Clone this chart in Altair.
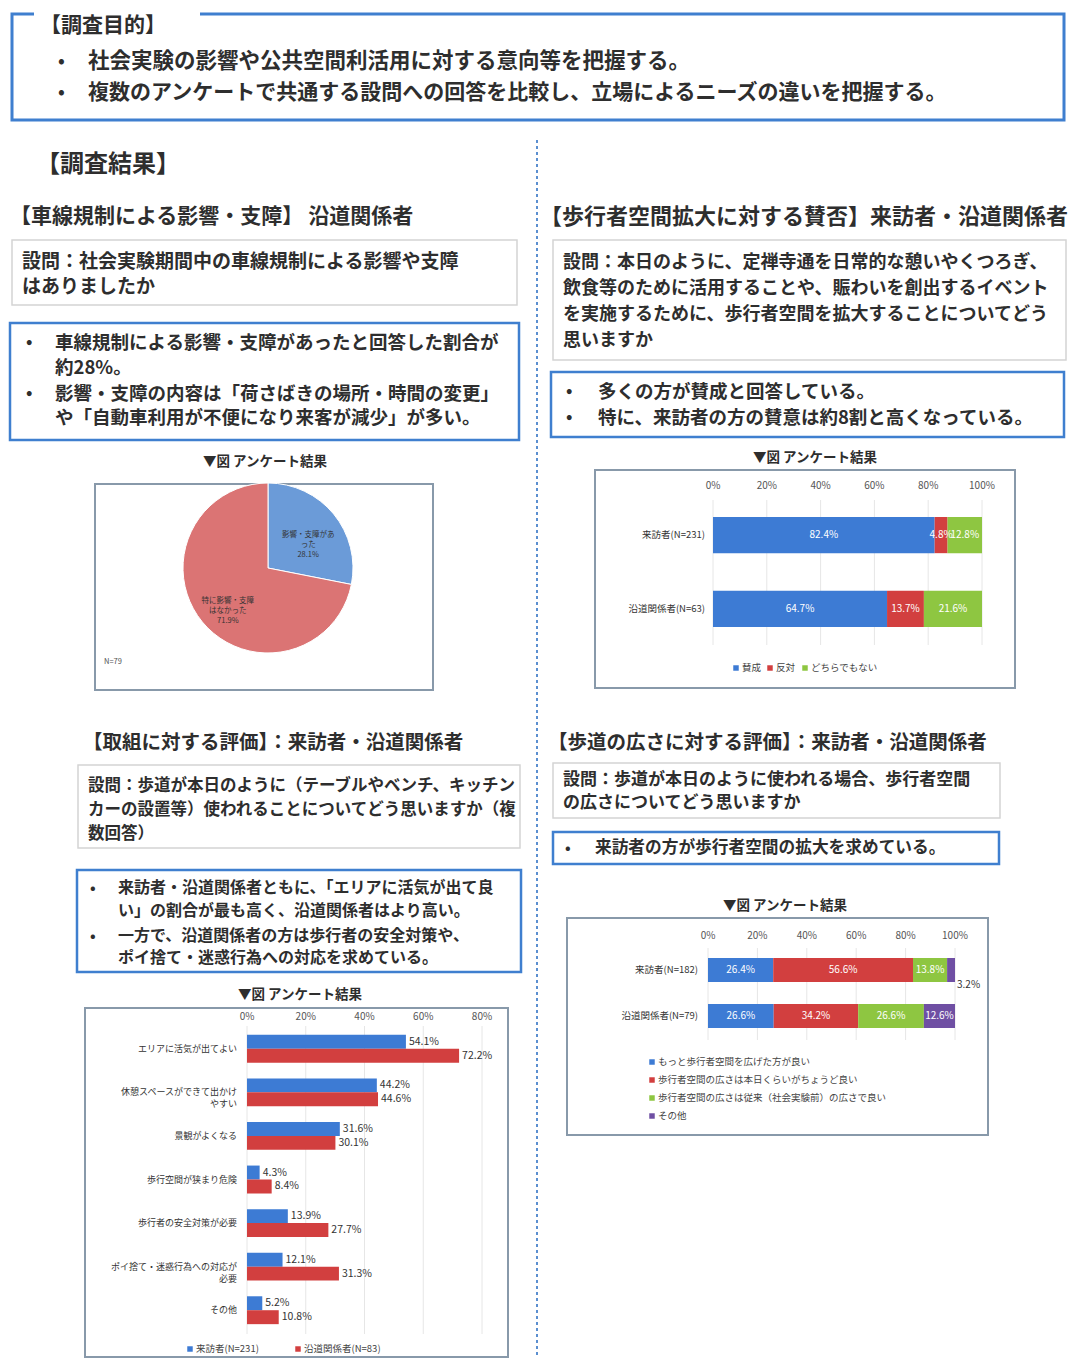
import altair as alt
import pandas as pd

FONT = "Noto Sans CJK JP"
M = 8
W, H = 1063, 1350

# ---------------- data ----------------
pie_labels = ["影響・支障があった", "特に影響・支障はなかった"]
pie_label_text = ["影響・支障があ\nった\n", "特に影響・支障\nはなかった\n"]
pie_values = [28.1, 71.9]

support_groups = ["来訪者(N=231)", "沿道関係者(N=63)"]
support_cats = ["賛成", "反対", "どちらでもない"]
support_visitor = [82.4, 4.8, 12.8]
support_resident = [64.7, 13.7, 21.6]

eval_cats = ["エリアに活気が出てよい", "休憩スペースができて出かけやすい", "景観がよくなる",
             "歩行空間が狭まり危険", "歩行者の安全対策が必要", "ポイ捨て・迷惑行為への対応が必要", "その他"]
eval_disp = ["エリアに活気が出てよい", "休憩スペースができて出かけ\nやすい", "景観がよくなる",
             "歩行空間が狭まり危険", "歩行者の安全対策が必要", "ポイ捨て・迷惑行為への対応が\n必要", "その他"]
eval_series = ["来訪者(N=231)", "沿道関係者(N=83)"]
eval_visitor = [54.1, 44.2, 31.6, 4.3, 13.9, 12.1, 5.2]
eval_resident = [72.2, 44.6, 30.1, 8.4, 27.7, 31.3, 10.8]

width_groups = ["来訪者(N=182)", "沿道関係者(N=79)"]
width_cats = ["もっと歩行者空間を広げた方が良い", "歩行者空間の広さは本日くらいがちょうど良い",
              "歩行者空間の広さは従来（社会実験前）の広さで良い", "その他"]
width_visitor = [26.4, 56.6, 13.8, 3.2]
width_resident = [26.6, 34.2, 26.6, 12.6]

ticks_100 = [0, 20, 40, 60, 80, 100]
ticks_80 = [0, 20, 40, 60, 80]

BLUE, RED, GREEN, PURPLE = "#3d7bd4", "#d23f3f", "#8ec641", "#6f4fa3"
FRAME_BLUE = "#3f7fcf"
DARK = "#2e2e2e"

one = pd.DataFrame({"k": [0]})


def P(v):
    return v - M


def text(x, y, s, size=18, weight="bold", color=DARK, align="left", lh=None):
    kw = dict(align=align, baseline="middle", fontSize=size, fontWeight=weight, font=FONT, color=color)
    if "\n" in s:
        kw["lineBreak"] = "\n"
        kw["lineHeight"] = lh or size * 1.3
    return alt.Chart(pd.DataFrame({"t": [s]})).mark_text(**kw).encode(
        x=alt.value(P(x)), y=alt.value(P(y)), text="t:N")


def box(x1, y1, x2, y2, stroke, sw, fill="#ffffff"):
    return alt.Chart(one).mark_rect(fill=fill, stroke=stroke, strokeWidth=sw).encode(
        x=alt.value(P(x1)), x2=alt.value(P(x2)), y=alt.value(P(y1)), y2=alt.value(P(y2)))


def legend_item(x, y, color, label, size=9.5):
    sq = alt.Chart(one).mark_square(size=30, color=color, opacity=1).encode(
        x=alt.value(P(x)), y=alt.value(P(y)))
    return [sq, text(x + 6, y, label, size=size, weight="normal", color="#444")]


def lines(x, y0, step, strs, size, weight="bold"):
    return [text(x, y0 + i * step, s, size=size, weight=weight) for i, s in enumerate(strs)]


layers = []

# ---------------- header ----------------
layers.append(box(12, 14, 1064, 120, FRAME_BLUE, 3))
layers.append(box(34, 9, 200, 36, "#ffffff", 0))
layers.append(text(40, 26, "【調査目的】", size=21))
layers.append(text(58, 62, "•", size=18))
layers.append(text(58, 93, "•", size=18))
layers.append(text(88, 62, "社会実験の影響や公共空間利活用に対する意向等を把握する。", size=21.5))
layers.append(text(88, 93, "複数のアンケートで共通する設問への回答を比較し、立場によるニーズの違いを把握する。", size=21))
layers.append(text(36, 165, "【調査結果】", size=24))

layers.append(alt.Chart(one).mark_rule(color="#5b8fd0", strokeWidth=2, strokeDash=[3, 3]).encode(
    x=alt.value(P(537)), y=alt.value(P(140)), y2=alt.value(H)))

# ---------------- top-left: pie ----------------
layers.append(text(10, 217, "【車線規制による影響・支障】 沿道関係者", size=21))
layers.append(box(12, 240, 517, 305, "#d4d4d4", 1.5))
layers += lines(22, 262, 25, ["設問：社会実験期間中の車線規制による影響や支障", "はありましたか"], 19)
layers.append(box(10, 323, 519, 440, FRAME_BLUE, 2.5))
layers.append(text(26, 343, "•", size=17))
layers.append(text(26, 394, "•", size=17))
layers += lines(55, 343, 25, ["車線規制による影響・支障があったと回答した割合が", "約28%。"], 18.5)
layers += lines(55, 394, 24, ["影響・支障の内容は「荷さばきの場所・時間の変更」", "や「自動車利用が不便になり来客が減少」が多い。"], 18.5)
layers.append(text(265, 462, "▼図  アンケート結果", size=13.5, align="center"))
layers.append(box(95, 484, 433, 690, "#8899aa", 2))

pie_df = pd.DataFrame({"label": pie_labels, "value": pie_values, "order": [0, 1]})
pie_df["txt"] = [t + f"{v:.1f}%" for t, v in zip(pie_label_text, pie_values)]
pie_color = alt.Color("label:N", scale=alt.Scale(domain=pie_labels, range=["#6b9bd8", "#db7474"]), legend=None)
pie_base = alt.Chart(pie_df).encode(
    theta=alt.Theta("value:Q", stack=True), order=alt.Order("order:Q"),
    x=alt.value(P(268)), y=alt.value(P(568)))
pie = alt.layer(
    pie_base.mark_arc(outerRadius=85, stroke="#ffffff", strokeWidth=1).encode(color=pie_color),
    pie_base.mark_text(radius=52, fontSize=7.5, font=FONT, color="#333", lineBreak="\n",
                       lineHeight=10, baseline="middle", align="center").encode(text="txt:N"),
)
layers.append(pie)
layers.append(text(104, 662, "N=79", size=7.5, weight="normal", color="#555"))


# ---------------- stacked bar helper ----------------
def stacked(groups, cats, rows, colors, x0, x1, y0, y1, pad, tick_y, gy0, gy1, label_x,
            label_size=9.5, value_size=10, outside_below=None):
    recs = []
    for g, vals in zip(groups, rows):
        cum = 0.0
        for i, (c, v) in enumerate(zip(cats, vals)):
            recs.append(dict(group=g, cat=c, value=v, order=i, mid=cum + v / 2, end=cum + v,
                             label=f"{v:.1f}%"))
            cum += v
    df = pd.DataFrame(recs)
    xs = alt.Scale(domain=[0, 100], range=[P(x0), P(x1)], nice=False, zero=True)
    ys = alt.Scale(domain=groups, range=[P(y0), P(y1)], paddingInner=pad, paddingOuter=0)
    col = alt.Color("cat:N", scale=alt.Scale(domain=cats, range=colors), legend=None)
    tdf = pd.DataFrame({"t": ticks_100, "lab": [f"{t}%" for t in ticks_100]})
    grid = alt.Chart(tdf).mark_rule(color="#e6e6e6", strokeWidth=1).encode(
        x=alt.X("t:Q", scale=xs, axis=None), y=alt.value(P(gy0)), y2=alt.value(P(gy1)))
    tl = alt.Chart(tdf).mark_text(fontSize=10, font=FONT, color="#555", baseline="middle").encode(
        x=alt.X("t:Q", scale=xs, axis=None), y=alt.value(P(tick_y)), text="lab:N")
    bars = alt.Chart(df).mark_bar().encode(
        x=alt.X("value:Q", stack="zero", scale=xs, axis=None),
        y=alt.Y("group:N", scale=ys, axis=None, sort=groups),
        color=col, order=alt.Order("order:Q"))
    inside = alt.Chart(df).transform_filter(
        alt.datum.value >= (5 if outside_below else 0)).mark_text(
        fontSize=value_size, font=FONT, color="#ffffff", baseline="middle").encode(
        x=alt.X("mid:Q", scale=xs, axis=None),
        y=alt.Y("group:N", scale=ys, axis=None, sort=groups), text="label:N")
    cl = alt.Chart(pd.DataFrame({"group": groups})).mark_text(
        fontSize=label_size, font=FONT, color="#333", align="right", baseline="middle").encode(
        x=alt.value(P(label_x)), y=alt.Y("group:N", scale=ys, axis=None, sort=groups), text="group:N")
    parts = [grid, tl, bars, inside, cl]
    if outside_below:
        outside = alt.Chart(df).transform_filter(alt.datum.value < 5).mark_text(
            fontSize=value_size, font=FONT, color="#333", baseline="middle", align="left",
            dx=2, dy=15).encode(
            x=alt.X("end:Q", scale=xs, axis=None),
            y=alt.Y("group:N", scale=ys, axis=None, sort=groups), text="label:N")
        parts.append(outside)
    return alt.layer(*parts)


# ---------------- top-right: support ----------------
layers.append(text(540, 217, "【歩行者空間拡大に対する賛否】来訪者・沿道関係者", size=22))
layers.append(box(553, 240, 1066, 360, "#d4d4d4", 1.5))
layers += lines(563, 263, 26, ["設問：本日のように、定禅寺通を日常的な憩いやくつろぎ、",
                               "飲食等のために活用することや、賑わいを創出するイベント",
                               "を実施するために、歩行者空間を拡大することについてどう",
                               "思いますか"], 18)
layers.append(box(551, 372, 1064, 437, FRAME_BLUE, 2.5))
layers.append(text(566, 392, "•", size=17))
layers.append(text(566, 418, "•", size=17))
layers += lines(598, 392, 26, ["多くの方が賛成と回答している。", "特に、来訪者の方の賛意は約8割と高くなっている。"], 18.5)
layers.append(text(815, 458, "▼図  アンケート結果", size=13.5, align="center"))
layers.append(box(595, 470, 1015, 688, "#8899aa", 2))
layers.append(stacked(support_groups, support_cats, [support_visitor, support_resident],
                      [BLUE, RED, GREEN], 713, 982, 517, 627, 0.51, 486, 500, 645, 705))
for x, c, l in [(736, BLUE, "賛成"), (770, RED, "反対"), (805, GREEN, "どちらでもない")]:
    layers += legend_item(x, 668, c, l)

# ---------------- bottom-left: evaluation ----------------
layers.append(text(83, 743, "【取組に対する評価】：来訪者・沿道関係者", size=19.5))
layers.append(box(78, 765, 520, 848, "#d4d4d4", 1.5))
layers += lines(88, 786, 24, ["設問：歩道が本日のように（テーブルやベンチ、キッチン",
                              "カーの設置等）使われることについてどう思いますか（複",
                              "数回答）"], 16.5)
layers.append(box(77, 870, 521, 972, FRAME_BLUE, 2.5))
layers.append(text(90, 888, "•", size=15))
layers.append(text(90, 936, "•", size=15))
layers += lines(118, 888, 23, ["来訪者・沿道関係者ともに、「エリアに活気が出て良",
                               "い」の割合が最も高く、沿道関係者はより高い。"], 16)
layers += lines(118, 936, 22, ["一方で、沿道関係者の方は歩行者の安全対策や、",
                               "ポイ捨て・迷惑行為への対応を求めている。"], 16)
layers.append(text(300, 995, "▼図  アンケート結果", size=13.5, align="center"))
layers.append(box(85, 1008, 508, 1357, "#8899aa", 2))

erecs = []
for i, c in enumerate(eval_cats):
    for s, vals in zip(eval_series, [eval_visitor, eval_resident]):
        erecs.append(dict(cat=c, series=s, value=vals[i], label=f"{vals[i]:.1f}%"))
edf = pd.DataFrame(erecs)
exs = alt.Scale(domain=[0, 80], range=[P(247), P(482)], nice=False, zero=True)
eys = alt.Scale(domain=eval_cats, range=[P(1027), P(1332)], paddingInner=0.36, paddingOuter=0.18)
eoff = alt.YOffset("series:N", scale=alt.Scale(domain=eval_series), sort=eval_series)
etdf = pd.DataFrame({"t": ticks_80, "lab": [f"{t}%" for t in ticks_80]})
eval_chart = alt.layer(
    alt.Chart(etdf).mark_rule(color="#e6e6e6", strokeWidth=1).encode(
        x=alt.X("t:Q", scale=exs, axis=None), y=alt.value(P(1026)), y2=alt.value(P(1334))),
    alt.Chart(etdf).mark_text(fontSize=10, font=FONT, color="#555", baseline="middle").encode(
        x=alt.X("t:Q", scale=exs, axis=None), y=alt.value(P(1017)), text="lab:N"),
    alt.Chart(edf).mark_bar().encode(
        x=alt.X("value:Q", scale=exs, axis=None),
        y=alt.Y("cat:N", scale=eys, axis=None, sort=eval_cats),
        yOffset=eoff,
        color=alt.Color("series:N", scale=alt.Scale(domain=eval_series, range=[BLUE, RED]), legend=None)),
    alt.Chart(edf).mark_text(fontSize=10.5, font=FONT, color="#333", align="left", baseline="middle", dx=3).encode(
        x=alt.X("value:Q", scale=exs, axis=None),
        y=alt.Y("cat:N", scale=eys, axis=None, sort=eval_cats),
        yOffset=eoff, text="label:N"),
    alt.Chart(pd.DataFrame({"cat": eval_cats, "disp": eval_disp})).mark_text(
        fontSize=9, font=FONT, color="#333", align="right", baseline="middle",
        lineBreak="\n", lineHeight=12).encode(
        x=alt.value(P(237)), y=alt.Y("cat:N", scale=eys, axis=None, sort=eval_cats), text="disp:N"),
)
layers.append(eval_chart)
for x, c, l in [(190, BLUE, "来訪者(N=231)"), (298, RED, "沿道関係者(N=83)")]:
    layers += legend_item(x, 1349, c, l)

# ---------------- bottom-right: width ----------------
layers.append(text(548, 743, "【歩道の広さに対する評価】：来訪者・沿道関係者", size=19.5))
layers.append(box(553, 763, 1000, 818, "#d4d4d4", 1.5))
layers += lines(563, 780, 23, ["設問：歩道が本日のように使われる場合、歩行者空間",
                               "の広さについてどう思いますか"], 17)
layers.append(box(553, 832, 999, 864, FRAME_BLUE, 2.5))
layers.append(text(565, 848, "•", size=15))
layers.append(text(595, 848, "来訪者の方が歩行者空間の拡大を求めている。", size=16.7))
layers.append(text(785, 906, "▼図  アンケート結果", size=13.5, align="center"))
layers.append(box(567, 918, 988, 1135, "#8899aa", 2))
layers.append(stacked(width_groups, width_cats, [width_visitor, width_resident],
                      [BLUE, RED, GREEN, PURPLE], 708, 955, 958, 1028, 0.478, 936, 948, 1040, 698,
                      outside_below=True))
for i, (c, l) in enumerate(zip([BLUE, RED, GREEN, PURPLE], width_cats)):
    layers += legend_item(652, 1062 + 18 * i, c, l)

chart = alt.layer(*layers).properties(
    width=W, height=H, autosize=alt.AutoSizeParams(type="none"), padding=0
).resolve_scale(x="independent", y="independent", color="independent").configure_view(stroke=None)

chart.save("out.html", embed_options={"renderer": "svg", "actions": False})
